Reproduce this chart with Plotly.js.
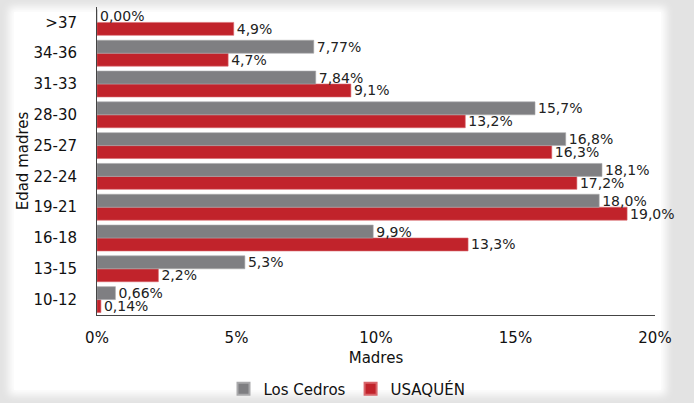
<!DOCTYPE html>
<html>
<head>
<meta charset="utf-8">
<script src="https://cdn.plot.ly/plotly-3.0.1.min.js"></script>
<style>
html,body{margin:0;padding:0;background:#e3e3e3;width:694px;height:403px;overflow:hidden;}
#panel{position:absolute;left:14px;top:12px;width:647px;height:378px;background:#fff;box-shadow:0 0 8px 5px #fff;}
#chart{position:absolute;left:0;top:0;width:694px;height:403px;}
</style>
</head>
<body>
<div id="panel"></div>
<div id="chart"></div>
<script>
const categories = ["10-12","13-15","16-18","19-21","22-24","25-27","28-30","31-33","34-36",">37"];
const losCedros = [0.66, 5.3, 9.9, 18.0, 18.1, 16.8, 15.7, 7.84, 7.77, 0.00];
const usaquen = [0.14, 2.2, 13.3, 19.0, 17.2, 16.3, 13.2, 9.1, 4.7, 4.9];
const losCedrosLabels = ["0,66%","5,3%","9,9%","18,0%","18,1%","16,8%","15,7%","7,84%","7,77%","0,00%"];
const usaquenLabels = ["0,14%","2,2%","13,3%","19,0%","17,2%","16,3%","13,2%","9,1%","4,7%","4,9%"];
const xTickVals = [0,5,10,15,20];
const xTickText = ["0%","5%","10%","15%","20%"];

const font = "DejaVu Sans, Verdana, sans-serif";
const common = {type:"bar", orientation:"h", y:categories, textposition:"outside", cliponaxis:false,
  constraintext:"none", textfont:{family:font,size:14,color:"#222"}, hoverinfo:"none"};

const data = [
  Object.assign({}, common, {name:"USAQUÉN", x:usaquen, text:usaquenLabels,
    marker:{color:"#c1232b", line:{color:"#d9666b", width:0.6}}}),
  Object.assign({}, common, {name:"Los Cedros", x:losCedros, text:losCedrosLabels,
    marker:{color:"#7f7f82", line:{color:"#a9a9ab", width:0.6}}})
];

const layout = {
  width:694, height:403,
  paper_bgcolor:"rgba(0,0,0,0)", plot_bgcolor:"rgba(0,0,0,0)",
  margin:{l:97, r:39, t:7, b:88},
  barmode:"group", bargap:0.16, bargroupgap:0,
  font:{family:font, size:15, color:"#111"},
  showlegend:true,
  legend:{orientation:"h", traceorder:"reversed", xref:"container", x:0.5, xanchor:"center",
    yref:"container", y:0.035, yanchor:"middle", font:{family:font,size:15,color:"#111"},
    itemwidth:30, itemsizing:"constant"},
  xaxis:{range:[0,20], tickvals:xTickVals, ticktext:xTickText, showgrid:false, zeroline:false,
    showline:true, linecolor:"#444", linewidth:1, ticks:"", ticklabelstandoff:9,
    tickfont:{family:font,size:15,color:"#111"},
    title:{text:"Madres", font:{family:font,size:15,color:"#111"}, standoff:6}},
  yaxis:{type:"category", categoryorder:"array", categoryarray:categories, showgrid:false, zeroline:false,
    showline:true, linecolor:"#444", linewidth:1, ticks:"", ticklabelstandoff:16,
    tickfont:{family:font,size:15,color:"#111"},
    title:{text:"Edad madres", font:{family:font,size:15,color:"#111"}, standoff:1}}
};

Plotly.newPlot("chart", data, layout, {staticPlot:true, displayModeBar:false});
</script>
</body>
</html>
